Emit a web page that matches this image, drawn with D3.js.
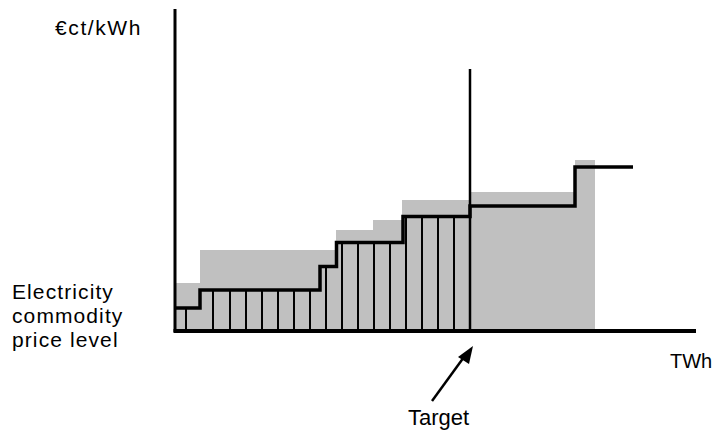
<!DOCTYPE html>
<html><head><meta charset="utf-8">
<script src="https://cdn.jsdelivr.net/npm/d3@7"></script>
<style>html,body{margin:0;padding:0;background:#fff;}svg{display:block;}</style>
</head><body>
<svg id="chart" width="723" height="437"></svg>
<script>
// Data (TWh along x, €ct/kWh along y; abstract units)
const grayStart = [0, 5, 32.2, 39.6, 45.4, 59, 80];
const grayEnd   = [5, 32.2, 39.6, 45.4, 59, 80, 84];
const grayTop   = [9.6, 16.2, 20.2, 22.2, 26.2, 27.8, 34.2];
const stepBreaks = [0, 5, 29, 32.3, 45.6, 59, 80, 91.6];
const stepPrices = [4.6, 8.2, 12.9, 17.7, 22.9, 25, 32.8, 32.8];
const dividers = [2.2, 7.6, 11, 14.2, 17.4, 20.6, 23.8, 27, 30.2, 33.4, 36.6, 39.8, 43, 46.2, 49.4, 52.6, 55.8];
const targetTWh = 59;
const targetTop = 52.4;
const xMax = 104.2, yMax = 64.4;
const yLabel = "€ct/kWh";
const xLabel = "TWh";
const levelLabel = ["Electricity", "commodity", "price level"];
const targetLabel = "Target";

const svg = d3.select("#chart");
const x = d3.scaleLinear().domain([0, 104]).range([175, 695]);
const y = d3.scaleLinear().domain([0, 64]).range([331, 11]);
const priceAt = v => { let p = stepPrices[0]; for (let i = 0; i < stepBreaks.length; i++) if (v >= stepBreaks[i]) p = stepPrices[i]; return p; };

// gray blocks
svg.append("g").selectAll("rect").data(grayStart).join("rect")
  .attr("x", (d) => x(d))
  .attr("width", (d, i) => x(grayEnd[i]) - x(d))
  .attr("y", (d, i) => y(grayTop[i]))
  .attr("height", (d, i) => y(0) - y(grayTop[i]))
  .attr("fill", "#c0c0c0");

// dividers
svg.append("g").selectAll("line").data(dividers).join("line")
  .attr("x1", d => x(d)).attr("x2", d => x(d))
  .attr("y1", y(0)).attr("y2", d => y(priceAt(d)))
  .attr("stroke", "#000").attr("stroke-width", 2);

// target line
svg.append("line").attr("x1", x(targetTWh)).attr("x2", x(targetTWh))
  .attr("y1", y(0)).attr("y2", y(targetTop)).attr("stroke", "#000").attr("stroke-width", 2.5);

// price step line
const line = d3.line().x((d, i) => x(stepBreaks[i])).y(d => y(d)).curve(d3.curveStepAfter);
svg.append("path").attr("d", line(stepPrices)).attr("fill", "none")
  .attr("stroke", "#000").attr("stroke-width", 3.5).attr("stroke-linejoin", "miter");

// axes
svg.append("line").attr("x1", x(0)).attr("x2", x(0)).attr("y1", y(0) + 1).attr("y2", y(yMax))
  .attr("stroke", "#000").attr("stroke-width", 3);
svg.append("line").attr("x1", x(0) - 1.5).attr("x2", x(xMax)).attr("y1", y(0)).attr("y2", y(0))
  .attr("stroke", "#000").attr("stroke-width", 4);

// labels
const font = "Liberation Sans, Arial, sans-serif";
svg.append("text").attr("x", 55).attr("y", 35).attr("font-family", font).attr("font-size", 21)
  .attr("letter-spacing", 1.6).text(yLabel);
svg.append("text").attr("x", 670).attr("y", 368).attr("font-family", font).attr("font-size", 20).text(xLabel);
svg.append("g").selectAll("text").data(levelLabel).join("text")
  .attr("x", 12).attr("y", (d, i) => 299 + i * 24).attr("font-family", font).attr("font-size", 21)
  .attr("letter-spacing", 1.1).text(d => d);
svg.append("text").attr("x", 408).attr("y", 425).attr("font-family", font).attr("font-size", 22).text(targetLabel);

// arrow to target
const tx = x(targetTWh);
svg.append("line").attr("x1", tx - 38).attr("y1", 401).attr("x2", tx - 6).attr("y2", 357)
  .attr("stroke", "#000").attr("stroke-width", 2.5);
svg.append("path").attr("d", `M${tx + 3},${346} L${tx - 12},${357} L${tx - 1},${364} Z`).attr("fill", "#000");
</script>
</body></html>
